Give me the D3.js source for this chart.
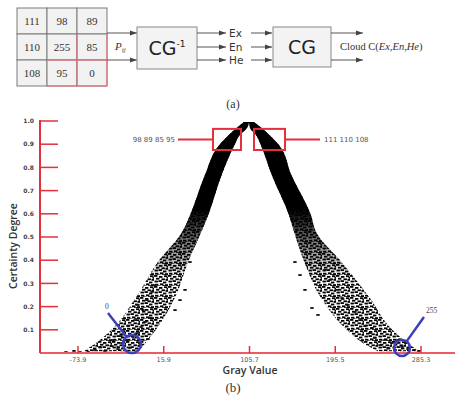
<!DOCTYPE html>
<html lang="en">
<head>
<meta charset="UTF-8" />
<title>Cloud model</title>
<script src="https://d3js.org/d3.v7.min.js"></script>
<style>
  body { margin: 0; background: #fff; }
  svg { display: block; }
</style>
</head>
<body>
<script>
    // (a) the 3x3 pixel neighbourhood
    var pixels = [[111, 98, 89], [110, 255, 85], [108, 95, 0]];
    var cloudParams = ["Ex", "En", "He"];

    // (b) x ticks and y ticks
    var xTicks = [-73.9, 15.9, 105.7, 195.5, 285.3];
    var yTicks = [0.1, 0.2, 0.3, 0.4, 0.5, 0.6, 0.7, 0.8, 0.9, 1.0];

    // band of cloud drops: certainty level and gray value edges
    var bandC      = [0.996, 0.97, 0.94, 0.897, 0.767, 0.595, 0.52, 0.388, 0.241, 0.099, 0.034, 0.008];
    var leftOuter  = [99.9, 92.0, 84.0, 74.0, 59.0, 43.5, 35.0, 9.0, -13.0, -39.0, -58.0, -68.0];
    var leftInner  = [105.2, 103.1, 95.7, 90.0, 76.5, 62.5, 55.0, 41.0, 28.0, 7.5, -5.0, -10.0];
    var rightInner = [105.2, 106.2, 112.5, 117.5, 129.0, 147.0, 152.5, 163.5, 180.0, 208.0, 228.0, 240.0];
    var rightOuter = [110.4, 118.5, 126.5, 136.5, 149.5, 170.0, 175.5, 203.0, 231.0, 255.5, 274.0, 283.0];

    // single scattered drops in the tails
    var dropX = [-56.1, -50.9, -45.6, -38.3, -32.0, -27.8, -22.6, -16.3, -12.1, -7.9, -3.7, 1.5, -19.4, -63.4, -71.8,
        -78.1, -86.5, -37.2, -28.9, -9.0, -0.6, -14.2, -21.5, -5.8, -11.1, -1.7, 3.6, 6.7,
        242.4, 250.7, 258.1, 265.4, 271.7, 278.0, 283.2, 247.6, 254.9, 261.2, 237.1, 231.9, 226.6, 221.4,
        234.0, 216.2, 208.8, 202.6, 197.3, 190.0, 184.8, 269.6,
        153.3, 158.6, 163.8, 171.1, 177.4, 43.4, 38.2, 32.9, 27.7];
    var dropC = [0.013, 0.026, 0.009, 0.030, 0.017, 0.043, 0.056, 0.069, 0.086, 0.112, 0.134, 0.151, 0.022, 0.004, 0.004,
        0.009, 0.004, 0.056, 0.073, 0.043, 0.060, 0.142, 0.116, 0.185, 0.207, 0.228, 0.263, 0.293,
        0.034, 0.022, 0.013, 0.026, 0.017, 0.013, 0.009, 0.056, 0.043, 0.056, 0.065, 0.086, 0.116, 0.142,
        0.108, 0.177, 0.207, 0.237, 0.272, 0.315, 0.358, 0.043,
        0.392, 0.336, 0.272, 0.194, 0.164, 0.392, 0.272, 0.228, 0.185];

    // highlighted neighbourhoods and the two end pixels
    var topLeftBox = { x0: 67.5, x1: 96.8, c0: 0.875, c1: 0.966, label: "98 89 85 95" };
    var topRightBox = { x0: 110.4, x1: 142.9, c0: 0.875, c1: 0.966, label: "111 110 108" };
    var endPoints = [
        { g: -17.4, c: 0.039, r: 9, lx: -42.5, lc: 0.172, label: "0" },
        { g: 265.4, c: 0.022, r: 8, lx: 288.4, lc: 0.155, label: "255" }
    ];

    var w = 455, h = 401;
    var red = "#e2303c";
    var blue = "#3b3fbd";

    var svg = d3.select("body").append("svg")
        .attr("width", w)
        .attr("height", h);

    var defs = svg.append("defs");
    defs.append("marker")
        .attr("id", "arrow")
        .attr("markerUnits", "userSpaceOnUse")
        .attr("markerWidth", 7).attr("markerHeight", 6)
        .attr("refX", 7).attr("refY", 3)
        .attr("orient", "auto")
        .append("path").attr("d", "M0,0.5 L7,3 L0,5.5 z").attr("fill", "#444");

    // irregular dash texture for the drop band
    var pat = defs.append("pattern")
        .attr("id", "drops")
        .attr("patternUnits", "userSpaceOnUse")
        .attr("width", 14).attr("height", 11);
    [[0, 0], [5, 1], [10, 0.3], [2, 2.8], [7.5, 3.4], [11.5, 4], [0.5, 5.6], [4.5, 5.2], [9, 6.6],
     [6, 8.4], [1, 8.8], [11, 9.2], [3, 10.5], [12.5, 2], [8, 10.2]].forEach(function (p) {
        pat.append("rect").attr("x", p[0]).attr("y", p[1]).attr("width", 3.4).attr("height", 1.8).attr("fill", "#000");
    });

    var grad = defs.append("linearGradient")
        .attr("id", "fade")
        .attr("gradientUnits", "userSpaceOnUse")
        .attr("x1", 0).attr("x2", 0).attr("y1", 121).attr("y2", 353);
    grad.append("stop").attr("offset", 0).attr("stop-color", "#fff");
    grad.append("stop").attr("offset", 0.38).attr("stop-color", "#fff");
    grad.append("stop").attr("offset", 0.68).attr("stop-color", "#000");
    defs.append("mask").attr("id", "fadeMask")
        .append("rect").attr("x", 0).attr("y", 0).attr("width", w).attr("height", h)
        .attr("fill", "url(#fade)");

    // ---------- (a) diagram ----------
    var tx = 17, ty = 8, cw = 30, ch = 26;
    var cells = [];
    pixels.forEach(function (row, i) {
        row.forEach(function (v, j) { cells.push({ i: i, j: j, v: v }); });
    });
    var table = svg.append("g");
    table.selectAll("rect").data(cells).enter().append("rect")
        .attr("x", function (d) { return tx + d.j * cw; })
        .attr("y", function (d) { return ty + d.i * ch; })
        .attr("width", cw).attr("height", ch)
        .attr("fill", "#f2f2f2").attr("stroke", "#7a7a7a").attr("stroke-width", 1);
    table.selectAll("text").data(cells).enter().append("text")
        .attr("x", function (d) { return tx + d.j * cw + cw / 2; })
        .attr("y", function (d) { return ty + d.i * ch + ch / 2 + 4; })
        .attr("text-anchor", "middle")
        .style("font-family", "Liberation Serif, serif").style("font-size", "11px").attr("fill", "#333")
        .text(function (d) { return d.v; });
    // red outline of the lower right neighbourhood
    var hl = "#ec6a74";
    [[tx + 2 * cw, ty + ch, tx + 2 * cw, ty + 3 * ch], [tx + 3 * cw, ty + ch, tx + 3 * cw, ty + 3 * ch],
     [tx + cw, ty + 2 * ch, tx + 3 * cw, ty + 2 * ch], [tx + cw, ty + 3 * ch, tx + 3 * cw, ty + 3 * ch]]
        .forEach(function (l) {
            table.append("line").attr("x1", l[0]).attr("y1", l[1]).attr("x2", l[2]).attr("y2", l[3])
                .attr("stroke", hl).attr("stroke-width", 1);
        });

    function arrow(x1, y1, x2) {
        svg.append("line").attr("x1", x1).attr("y1", y1).attr("x2", x2).attr("y2", y1)
            .attr("stroke", "#555").attr("stroke-width", 1).attr("marker-end", "url(#arrow)");
    }
    arrow(107, 33, 137);
    arrow(107, 60, 137);
    var pij = svg.append("text").attr("x", 115).attr("y", 50)
        .style("font-family", "Liberation Serif, serif").style("font-style", "italic").style("font-size", "11px")
        .attr("fill", "#333");
    pij.append("tspan").text("P");
    pij.append("tspan").attr("dy", 2).style("font-size", "7px").text("ij");

    function box(x, y, bw, bh, sup) {
        svg.append("rect").attr("x", x).attr("y", y).attr("width", bw).attr("height", bh)
            .attr("fill", "#f3f3f3").attr("stroke", "#888").attr("stroke-width", 1);
        var t = svg.append("text").attr("x", x + bw / 2).attr("y", y + bh / 2 + 7)
            .attr("text-anchor", "middle")
            .style("font-family", "DejaVu Sans, sans-serif").style("font-size", "19px").attr("fill", "#222");
        t.append("tspan").text("CG");
        if (sup) t.append("tspan").attr("dy", -8).style("font-size", "9px").text(sup);
    }
    box(137, 27, 60, 42, "-1");
    box(273, 27, 58, 40, null);

    var py = [33, 47, 60];
    cloudParams.forEach(function (p, i) {
        arrow(197, py[i], 226);
        svg.append("text").attr("x", 229).attr("y", py[i] + 4)
            .style("font-family", "DejaVu Sans, sans-serif").style("font-size", "10.5px").attr("fill", "#333")
            .text(p);
        arrow(251, py[i], 272);
    });
    arrow(331, 33, 363);
    arrow(331, 60, 363);
    var cl = svg.append("text").attr("x", 340).attr("y", 50)
        .style("font-family", "Liberation Serif, serif").style("font-size", "10.5px").attr("fill", "#333");
    cl.append("tspan").text("Cloud C(");
    cl.append("tspan").style("font-style", "italic").text("Ex,En,He");
    cl.append("tspan").text(")");

    svg.append("text").attr("x", 233).attr("y", 108).attr("text-anchor", "middle")
        .style("font-family", "Liberation Serif, serif").style("font-size", "12px").attr("fill", "#333")
        .text("(a)");

    // ---------- (b) chart ----------
    var xScale = d3.scaleLinear().domain([-73.9, 285.3]).range([78, 421]);
    var yScale = d3.scaleLinear().domain([0, 1]).range([353, 121]);
    var x0 = 40;

    var band = [];
    bandC.forEach(function (c, i) {
        band.push({ c: c, lo: leftOuter[i], li: leftInner[i], ri: rightInner[i], ro: rightOuter[i] });
    });
    var leftArm = d3.area().curve(d3.curveMonotoneY)
        .y(function (d) { return yScale(d.c); })
        .x0(function (d) { return xScale(d.lo); })
        .x1(function (d) { return xScale(d.li); });
    var rightArm = d3.area().curve(d3.curveMonotoneY)
        .y(function (d) { return yScale(d.c); })
        .x0(function (d) { return xScale(d.ri); })
        .x1(function (d) { return xScale(d.ro); });

    var cloud = svg.append("g");
    [leftArm, rightArm].forEach(function (arm) {
        cloud.append("path").datum(band).attr("d", arm).attr("fill", "url(#drops)");
    });
    var solid = cloud.append("g").attr("mask", "url(#fadeMask)");
    [leftArm, rightArm].forEach(function (arm) {
        solid.append("path").datum(band).attr("d", arm).attr("fill", "#000");
    });

    cloud.selectAll(".drop").data(dropX).enter().append("rect")
        .attr("class", "drop")
        .attr("x", function (d) { return xScale(d) - 1.7; })
        .attr("y", function (d, i) { return yScale(dropC[i]) - 0.9; })
        .attr("width", 3.4).attr("height", 1.8)
        .attr("fill", "#111");

    // axes
    svg.append("line").attr("x1", x0).attr("x2", w).attr("y1", yScale(0)).attr("y2", yScale(0))
        .attr("stroke", "#ec5a66").attr("stroke-width", 2);
    svg.append("line").attr("x1", x0).attr("x2", x0).attr("y1", yScale(1) - 1).attr("y2", yScale(0))
        .attr("stroke", red).attr("stroke-width", 2);

    svg.selectAll(".ytick").data(yTicks).enter().append("line")
        .attr("class", "ytick")
        .attr("x1", x0).attr("x2", x0 + 18)
        .attr("y1", function (d) { return yScale(d); }).attr("y2", function (d) { return yScale(d); })
        .attr("stroke", red).attr("stroke-width", 1.5);
    svg.selectAll(".ylab").data(yTicks).enter().append("text")
        .attr("class", "ylab")
        .attr("x", 34).attr("y", function (d) { return yScale(d) + 2.2; })
        .attr("text-anchor", "end")
        .style("font-family", "DejaVu Sans, sans-serif").style("font-weight", "bold").style("font-size", "6px")
        .attr("fill", "#444")
        .text(function (d) { return d.toFixed(1); });

    svg.selectAll(".xtick").data(xTicks).enter().append("line")
        .attr("class", "xtick")
        .attr("x1", function (d) { return xScale(d); }).attr("x2", function (d) { return xScale(d); })
        .attr("y1", yScale(0)).attr("y2", yScale(0) - 7)
        .attr("stroke", red).attr("stroke-width", 1.5);
    svg.selectAll(".xlab").data(xTicks).enter().append("text")
        .attr("class", "xlab")
        .attr("x", function (d) { return xScale(d); }).attr("y", yScale(0) + 9)
        .attr("text-anchor", "middle")
        .style("font-family", "DejaVu Sans, sans-serif").style("font-size", "6.5px")
        .attr("fill", "#555")
        .text(function (d) { return d; });

    svg.append("text").attr("x", 250).attr("y", 374).attr("text-anchor", "middle")
        .style("font-family", "Open Sans, DejaVu Sans, sans-serif").style("font-weight", "600").style("font-size", "10.5px")
        .attr("fill", "#333").text("Gray Value");
    svg.append("text").attr("transform", "translate(17,246) rotate(-90)").attr("text-anchor", "middle")
        .style("font-family", "Open Sans, DejaVu Sans, sans-serif").style("font-weight", "600").style("font-size", "10.5px")
        .attr("fill", "#333").text("Certainty Degree");
    svg.append("text").attr("x", 233).attr("y", 392).attr("text-anchor", "middle")
        .style("font-family", "Liberation Serif, serif").style("font-size", "13px").attr("fill", "#333")
        .text("(b)");

    // red neighbourhood boxes
    [topLeftBox, topRightBox].forEach(function (b, k) {
        svg.append("rect")
            .attr("x", xScale(b.x0)).attr("y", yScale(b.c1))
            .attr("width", xScale(b.x1) - xScale(b.x0)).attr("height", yScale(b.c0) - yScale(b.c1))
            .attr("fill", "none").attr("stroke", red).attr("stroke-width", 2);
        var ym = yScale((b.c0 + b.c1) / 2);
        var xa = k === 0 ? xScale(b.x0) : xScale(b.x1);
        var xb = k === 0 ? xa - 35 : xa + 35;
        svg.append("line").attr("x1", xa).attr("x2", xb).attr("y1", ym).attr("y2", ym)
            .attr("stroke", red).attr("stroke-width", 2);
        svg.append("text").attr("x", k === 0 ? xb - 3 : xb + 4).attr("y", ym + 2.5)
            .attr("text-anchor", k === 0 ? "end" : "start")
            .style("font-family", "DejaVu Sans, sans-serif").style("font-size", "7px").attr("fill", "#555")
            .text(b.label);
    });

    // blue end pixel markers
    endPoints.forEach(function (p) {
        var cx = xScale(p.g), cy = yScale(p.c);
        var lx = xScale(p.lx), ly = yScale(p.lc);
        var ang = Math.atan2(ly - cy, lx - cx);
        svg.append("circle").attr("cx", cx).attr("cy", cy).attr("r", p.r)
            .attr("fill", "none").attr("stroke", blue).attr("stroke-width", 2.5);
        svg.append("line")
            .attr("x1", cx + p.r * Math.cos(ang)).attr("y1", cy + p.r * Math.sin(ang))
            .attr("x2", lx).attr("y2", ly)
            .attr("stroke", blue).attr("stroke-width", 2.5);
        svg.append("text").attr("x", lx + (p.label === "0" ? -3 : 2)).attr("y", ly - 4)
            .style("font-family", "Liberation Serif, serif").style("font-size", "7.5px").attr("fill", "#445")
            .text(p.label);
    });
</script>
</body>
</html>
